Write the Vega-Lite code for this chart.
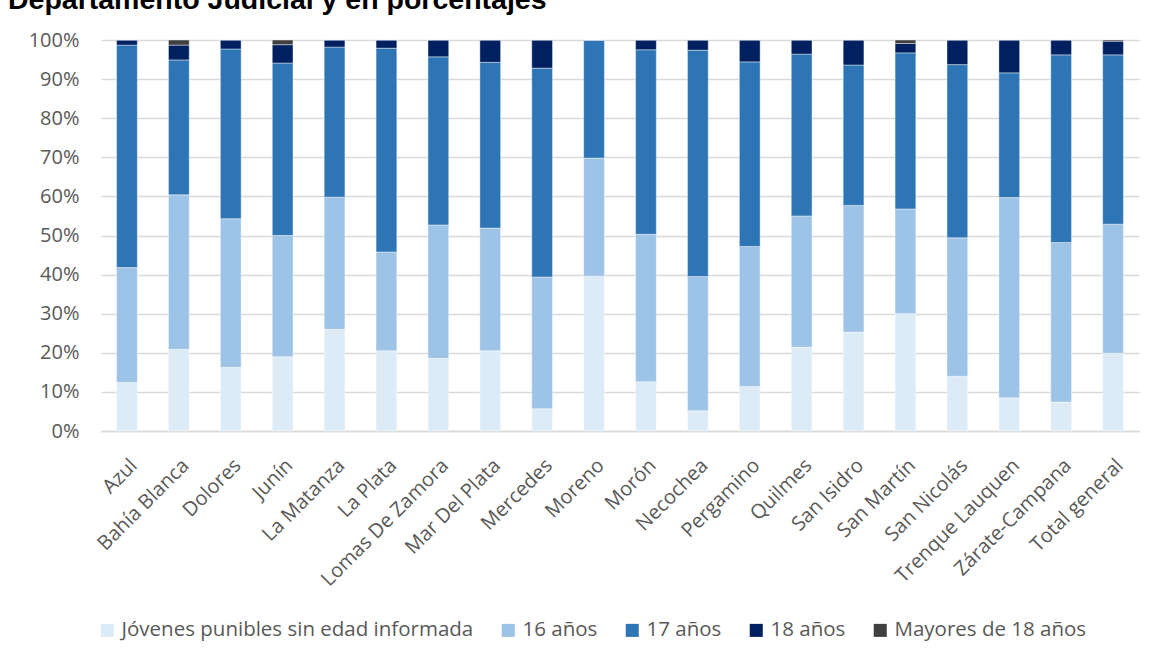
{
  "$schema": "https://vega.github.io/schema/vega-lite/v6.json",
  "autosize": {"type": "none"},
  "width": 1038,
  "height": 391,
  "padding": {"left": 101, "top": 40, "right": 17, "bottom": 231},
  "background": "white",
  "title": {
    "text": "Departamento Judicial y en porcentajes",
    "anchor": "start",
    "frame": "group",
    "font": "Liberation Sans",
    "fontSize": 28.5,
    "fontWeight": "bold",
    "color": "#000000",
    "baseline": "alphabetic",
    "offset": 0,
    "dx": -93,
    "dy": 7
  },
  "data": {
    "values": [
      {"departamento": "Azul", "grupo": "Jóvenes punibles sin edad informada", "orden": 0, "valor": 12.4},
      {"departamento": "Azul", "grupo": "16 años", "orden": 1, "valor": 29.4},
      {"departamento": "Azul", "grupo": "17 años", "orden": 2, "valor": 56.9},
      {"departamento": "Azul", "grupo": "18 años", "orden": 3, "valor": 1.3},
      {"departamento": "Azul", "grupo": "Mayores de 18 años", "orden": 4, "valor": 0},

      {"departamento": "Bahía Blanca", "grupo": "Jóvenes punibles sin edad informada", "orden": 0, "valor": 20.9},
      {"departamento": "Bahía Blanca", "grupo": "16 años", "orden": 1, "valor": 39.5},
      {"departamento": "Bahía Blanca", "grupo": "17 años", "orden": 2, "valor": 34.5},
      {"departamento": "Bahía Blanca", "grupo": "18 años", "orden": 3, "valor": 3.8},
      {"departamento": "Bahía Blanca", "grupo": "Mayores de 18 años", "orden": 4, "valor": 1.3},

      {"departamento": "Dolores", "grupo": "Jóvenes punibles sin edad informada", "orden": 0, "valor": 16.3},
      {"departamento": "Dolores", "grupo": "16 años", "orden": 1, "valor": 38.0},
      {"departamento": "Dolores", "grupo": "17 años", "orden": 2, "valor": 43.4},
      {"departamento": "Dolores", "grupo": "18 años", "orden": 3, "valor": 2.3},
      {"departamento": "Dolores", "grupo": "Mayores de 18 años", "orden": 4, "valor": 0},

      {"departamento": "Junín", "grupo": "Jóvenes punibles sin edad informada", "orden": 0, "valor": 19.0},
      {"departamento": "Junín", "grupo": "16 años", "orden": 1, "valor": 31.0},
      {"departamento": "Junín", "grupo": "17 años", "orden": 2, "valor": 44.1},
      {"departamento": "Junín", "grupo": "18 años", "orden": 3, "valor": 4.7},
      {"departamento": "Junín", "grupo": "Mayores de 18 años", "orden": 4, "valor": 1.2},

      {"departamento": "La Matanza", "grupo": "Jóvenes punibles sin edad informada", "orden": 0, "valor": 26.0},
      {"departamento": "La Matanza", "grupo": "16 años", "orden": 1, "valor": 33.8},
      {"departamento": "La Matanza", "grupo": "17 años", "orden": 2, "valor": 38.4},
      {"departamento": "La Matanza", "grupo": "18 años", "orden": 3, "valor": 1.8},
      {"departamento": "La Matanza", "grupo": "Mayores de 18 años", "orden": 4, "valor": 0},

      {"departamento": "La Plata", "grupo": "Jóvenes punibles sin edad informada", "orden": 0, "valor": 20.5},
      {"departamento": "La Plata", "grupo": "16 años", "orden": 1, "valor": 25.3},
      {"departamento": "La Plata", "grupo": "17 años", "orden": 2, "valor": 52.1},
      {"departamento": "La Plata", "grupo": "18 años", "orden": 3, "valor": 2.1},
      {"departamento": "La Plata", "grupo": "Mayores de 18 años", "orden": 4, "valor": 0},

      {"departamento": "Lomas De Zamora", "grupo": "Jóvenes punibles sin edad informada", "orden": 0, "valor": 18.6},
      {"departamento": "Lomas De Zamora", "grupo": "16 años", "orden": 1, "valor": 34.1},
      {"departamento": "Lomas De Zamora", "grupo": "17 años", "orden": 2, "valor": 43.0},
      {"departamento": "Lomas De Zamora", "grupo": "18 años", "orden": 3, "valor": 4.3},
      {"departamento": "Lomas De Zamora", "grupo": "Mayores de 18 años", "orden": 4, "valor": 0},

      {"departamento": "Mar Del Plata", "grupo": "Jóvenes punibles sin edad informada", "orden": 0, "valor": 20.5},
      {"departamento": "Mar Del Plata", "grupo": "16 años", "orden": 1, "valor": 31.4},
      {"departamento": "Mar Del Plata", "grupo": "17 años", "orden": 2, "valor": 42.4},
      {"departamento": "Mar Del Plata", "grupo": "18 años", "orden": 3, "valor": 5.7},
      {"departamento": "Mar Del Plata", "grupo": "Mayores de 18 años", "orden": 4, "valor": 0},

      {"departamento": "Mercedes", "grupo": "Jóvenes punibles sin edad informada", "orden": 0, "valor": 5.7},
      {"departamento": "Mercedes", "grupo": "16 años", "orden": 1, "valor": 33.7},
      {"departamento": "Mercedes", "grupo": "17 años", "orden": 2, "valor": 53.4},
      {"departamento": "Mercedes", "grupo": "18 años", "orden": 3, "valor": 7.2},
      {"departamento": "Mercedes", "grupo": "Mayores de 18 años", "orden": 4, "valor": 0},

      {"departamento": "Moreno", "grupo": "Jóvenes punibles sin edad informada", "orden": 0, "valor": 39.6},
      {"departamento": "Moreno", "grupo": "16 años", "orden": 1, "valor": 30.2},
      {"departamento": "Moreno", "grupo": "17 años", "orden": 2, "valor": 30.2},
      {"departamento": "Moreno", "grupo": "18 años", "orden": 3, "valor": 0},
      {"departamento": "Moreno", "grupo": "Mayores de 18 años", "orden": 4, "valor": 0},

      {"departamento": "Morón", "grupo": "Jóvenes punibles sin edad informada", "orden": 0, "valor": 12.6},
      {"departamento": "Morón", "grupo": "16 años", "orden": 1, "valor": 37.7},
      {"departamento": "Morón", "grupo": "17 años", "orden": 2, "valor": 47.2},
      {"departamento": "Morón", "grupo": "18 años", "orden": 3, "valor": 2.5},
      {"departamento": "Morón", "grupo": "Mayores de 18 años", "orden": 4, "valor": 0},

      {"departamento": "Necochea", "grupo": "Jóvenes punibles sin edad informada", "orden": 0, "valor": 5.2},
      {"departamento": "Necochea", "grupo": "16 años", "orden": 1, "valor": 34.3},
      {"departamento": "Necochea", "grupo": "17 años", "orden": 2, "valor": 57.9},
      {"departamento": "Necochea", "grupo": "18 años", "orden": 3, "valor": 2.6},
      {"departamento": "Necochea", "grupo": "Mayores de 18 años", "orden": 4, "valor": 0},

      {"departamento": "Pergamino", "grupo": "Jóvenes punibles sin edad informada", "orden": 0, "valor": 11.4},
      {"departamento": "Pergamino", "grupo": "16 años", "orden": 1, "valor": 35.8},
      {"departamento": "Pergamino", "grupo": "17 años", "orden": 2, "valor": 47.2},
      {"departamento": "Pergamino", "grupo": "18 años", "orden": 3, "valor": 5.6},
      {"departamento": "Pergamino", "grupo": "Mayores de 18 años", "orden": 4, "valor": 0},

      {"departamento": "Quilmes", "grupo": "Jóvenes punibles sin edad informada", "orden": 0, "valor": 21.4},
      {"departamento": "Quilmes", "grupo": "16 años", "orden": 1, "valor": 33.6},
      {"departamento": "Quilmes", "grupo": "17 años", "orden": 2, "valor": 41.4},
      {"departamento": "Quilmes", "grupo": "18 años", "orden": 3, "valor": 3.6},
      {"departamento": "Quilmes", "grupo": "Mayores de 18 años", "orden": 4, "valor": 0},

      {"departamento": "San Isidro", "grupo": "Jóvenes punibles sin edad informada", "orden": 0, "valor": 25.3},
      {"departamento": "San Isidro", "grupo": "16 años", "orden": 1, "valor": 32.4},
      {"departamento": "San Isidro", "grupo": "17 años", "orden": 2, "valor": 35.9},
      {"departamento": "San Isidro", "grupo": "18 años", "orden": 3, "valor": 6.4},
      {"departamento": "San Isidro", "grupo": "Mayores de 18 años", "orden": 4, "valor": 0},

      {"departamento": "San Martín", "grupo": "Jóvenes punibles sin edad informada", "orden": 0, "valor": 30.0},
      {"departamento": "San Martín", "grupo": "16 años", "orden": 1, "valor": 26.8},
      {"departamento": "San Martín", "grupo": "17 años", "orden": 2, "valor": 39.9},
      {"departamento": "San Martín", "grupo": "18 años", "orden": 3, "valor": 2.4},
      {"departamento": "San Martín", "grupo": "Mayores de 18 años", "orden": 4, "valor": 0.9},

      {"departamento": "San Nicolás", "grupo": "Jóvenes punibles sin edad informada", "orden": 0, "valor": 14.0},
      {"departamento": "San Nicolás", "grupo": "16 años", "orden": 1, "valor": 35.4},
      {"departamento": "San Nicolás", "grupo": "17 años", "orden": 2, "valor": 44.3},
      {"departamento": "San Nicolás", "grupo": "18 años", "orden": 3, "valor": 6.3},
      {"departamento": "San Nicolás", "grupo": "Mayores de 18 años", "orden": 4, "valor": 0},

      {"departamento": "Trenque Lauquen", "grupo": "Jóvenes punibles sin edad informada", "orden": 0, "valor": 8.5},
      {"departamento": "Trenque Lauquen", "grupo": "16 años", "orden": 1, "valor": 51.2},
      {"departamento": "Trenque Lauquen", "grupo": "17 años", "orden": 2, "valor": 31.9},
      {"departamento": "Trenque Lauquen", "grupo": "18 años", "orden": 3, "valor": 8.4},
      {"departamento": "Trenque Lauquen", "grupo": "Mayores de 18 años", "orden": 4, "valor": 0},

      {"departamento": "Zárate-Campana", "grupo": "Jóvenes punibles sin edad informada", "orden": 0, "valor": 7.4},
      {"departamento": "Zárate-Campana", "grupo": "16 años", "orden": 1, "valor": 40.8},
      {"departamento": "Zárate-Campana", "grupo": "17 años", "orden": 2, "valor": 48.0},
      {"departamento": "Zárate-Campana", "grupo": "18 años", "orden": 3, "valor": 3.8},
      {"departamento": "Zárate-Campana", "grupo": "Mayores de 18 años", "orden": 4, "valor": 0},

      {"departamento": "Total general", "grupo": "Jóvenes punibles sin edad informada", "orden": 0, "valor": 19.9},
      {"departamento": "Total general", "grupo": "16 años", "orden": 1, "valor": 33.0},
      {"departamento": "Total general", "grupo": "17 años", "orden": 2, "valor": 43.3},
      {"departamento": "Total general", "grupo": "18 años", "orden": 3, "valor": 3.5},
      {"departamento": "Total general", "grupo": "Mayores de 18 años", "orden": 4, "valor": 0.3}
    ]
  },
  "mark": {"type": "bar", "stroke": "#ffffff", "strokeWidth": 0.6, "strokeOpacity": 0.7},
  "encoding": {
    "x": {
      "field": "departamento",
      "type": "nominal",
      "sort": null,
      "title": null,
      "scale": {"paddingInner": 0.6, "paddingOuter": 0.3},
      "axis": {
        "labelAngle": -45,
        "labelAlign": "right",
        "labelBaseline": "top",
        "labelPadding": 24,
        "labelFont": "Open Sans",
        "labelFontSize": 20,
        "labelColor": "#595959",
        "ticks": false,
        "domainColor": "#D9D9D9",
        "domainWidth": 1.5,
        "labelOverlap": false,
        "labelLimit": 300
      }
    },
    "y": {
      "field": "valor",
      "type": "quantitative",
      "stack": "normalize",
      "title": null,
      "scale": {"domain": [0, 1], "nice": false},
      "axis": {
        "values": [0, 0.1, 0.2, 0.3, 0.4, 0.5, 0.6, 0.7, 0.8, 0.9, 1],
        "format": ".0%",
        "labelFont": "Open Sans",
        "labelFontSize": 20,
        "labelColor": "#595959",
        "labelPadding": 22,
        "ticks": false,
        "domain": false,
        "gridColor": "#D9D9D9",
        "gridWidth": 1.5
      }
    },
    "color": {
      "field": "grupo",
      "type": "nominal",
      "sort": ["Jóvenes punibles sin edad informada", "16 años", "17 años", "18 años", "Mayores de 18 años"],
      "scale": {
        "domain": ["Jóvenes punibles sin edad informada", "16 años", "17 años", "18 años", "Mayores de 18 años"],
        "range": ["#DDEBF7", "#9DC3E6", "#2E75B6", "#002060", "#404040"]
      },
      "legend": {
        "title": null,
        "orient": "none",
        "direction": "horizontal",
        "legendX": -4,
        "legendY": 580,
        "symbolType": "square",
        "symbolSize": 170,
        "symbolStrokeWidth": 0,
        "labelFont": "Open Sans",
        "labelFontSize": 20.5,
        "labelColor": "#595959",
        "labelOffset": 4,
        "columnPadding": 24,
        "labelLimit": 500
      }
    },
    "order": {"field": "orden", "type": "quantitative", "sort": "ascending"}
  },
  "config": {
    "view": {"stroke": null}
  }
}
